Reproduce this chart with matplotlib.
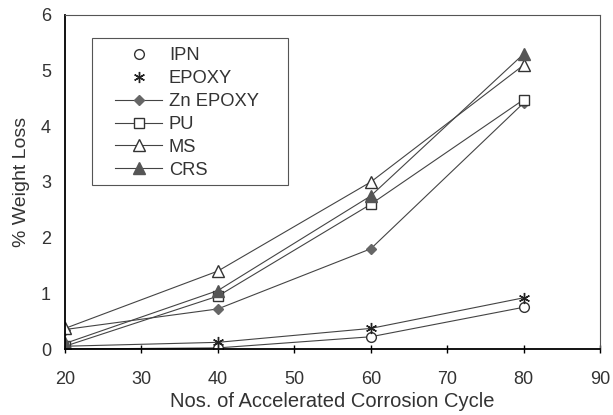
import matplotlib
matplotlib.use("Agg")
import matplotlib.pyplot as plt
from matplotlib.lines import Line2D
from matplotlib.patches import Rectangle

plt.rcParams['font.family'] = ['Liberation Sans', 'DejaVu Sans']

# Data
cycles = [20, 40, 60, 80]
ipn = [0.0, 0.02, 0.22, 0.75]
epoxy = [0.05, 0.12, 0.37, 0.92]
zn_epoxy = [0.35, 0.72, 1.8, 4.42]
pu = [0.05, 0.95, 2.6, 4.48]
ms = [0.37, 1.4, 3.0, 5.1]
crs = [0.1, 1.05, 2.75, 5.3]

fig = plt.figure(figsize=(6.13, 4.15), dpi=100)
ax = fig.add_axes([0.106, 0.159, 0.873, 0.805])

txt = '#333333'
lc = '#444444'
styles = [
    ('IPN', ipn, dict(marker='o', ms=7, mfc='white', mec='#333333'), False),
    ('EPOXY', epoxy, dict(marker=(6, 2, 0), ms=8, mec='#222222'), False),
    ('Zn EPOXY', zn_epoxy, dict(marker='D', ms=5, mfc='#666666', mec='#666666'), True),
    ('PU', pu, dict(marker='s', ms=7, mfc='white', mec='#333333'), True),
    ('MS', ms, dict(marker='^', ms=8, mfc='white', mec='#333333'), True),
    ('CRS', crs, dict(marker='^', ms=8, mfc='#555555', mec='#555555'), True),
]

handles = []
for name, vals, mk, leg_line in styles:
    ax.plot(cycles, vals, color=lc, lw=0.8, **mk)
    handles.append(Line2D([], [], color=lc, lw=0.8 if leg_line else 0, label=name, **mk))

ax.set_xlim(20, 90)
ax.set_ylim(0, 6)
ax.set_xticks(range(20, 91, 10))
ax.set_yticks(range(0, 7))

ax.set_xlabel('Nos. of Accelerated Corrosion Cycle', fontsize=14.5, color=txt, labelpad=3)
ax.set_ylabel('% Weight Loss', fontsize=14, color=txt, labelpad=8)
ax.tick_params(axis='both', direction='inout', length=6, width=1, labelsize=13, labelcolor=txt)
ax.tick_params(axis='x', pad=12.5)
ax.tick_params(axis='y', pad=10, length=0)

ax.spines['left'].set_linewidth(1.3)
ax.spines['bottom'].set_linewidth(1.3)
ax.spines['top'].set_linewidth(0.8)
ax.spines['right'].set_linewidth(0.8)
ax.spines['top'].set_color('#555555')
ax.spines['right'].set_color('#555555')

# legend box drawn separately so the padding can match
ax.add_patch(Rectangle((0.05, 0.491), 0.367, 0.44, transform=ax.transAxes,
                       fill=True, facecolor='white', edgecolor='#555555', lw=0.8, zorder=4))
leg = ax.legend(handles=handles, loc='upper left', bbox_to_anchor=(0.093, 0.903), fontsize=13.2,
                frameon=False, handlelength=2.6, handletextpad=0.35, labelspacing=0.32,
                borderpad=0, borderaxespad=0)
leg.set_zorder(5)
for t in leg.get_texts():
    t.set_color(txt)

fig.savefig('out.png', dpi=100)
